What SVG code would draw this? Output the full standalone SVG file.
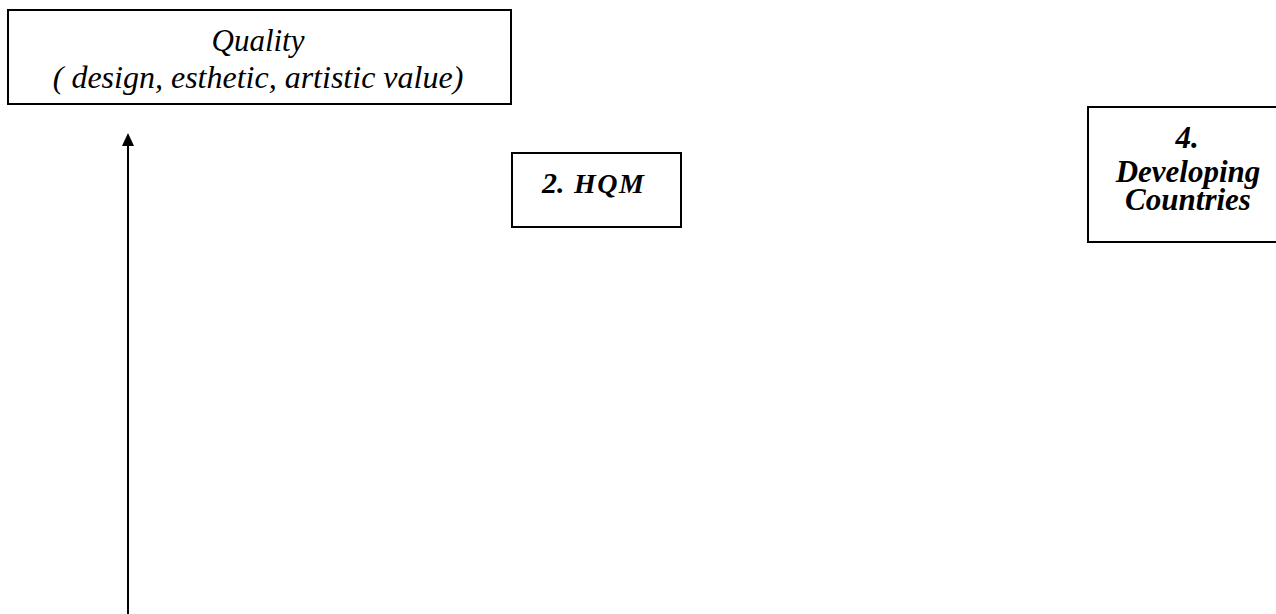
<svg xmlns="http://www.w3.org/2000/svg" width="1276" height="614" viewBox="0 0 1276 614">
<style>
.box{fill:#fff;stroke:#000;stroke-width:2}
.t{font-family:"Liberation Serif","Times New Roman",serif;font-style:italic;text-anchor:middle;fill:#000}
.b{font-weight:bold}
</style>
<rect width="1276" height="614" fill="#fff"/>
<g id="quality">
<rect class="box" x="8" y="10" width="503" height="94"/>
<text class="t" x="258" y="51" font-size="31">Quality</text>
<text class="t" x="258" y="88" font-size="32">( design, esthetic, artistic value)</text>
</g>
<g id="hqm">
<rect class="box" x="512" y="153" width="169" height="74"/>
<text class="t b" x="542" y="193" font-size="30" style="text-anchor:start">2.<tspan x="574" font-size="28" letter-spacing="1.5">HQM</tspan></text>
</g>
<g id="developing">
<rect class="box" x="1088" y="107" width="200" height="135"/>
<text class="t b" x="1187" y="148" font-size="31">4.</text>
<text class="t b" x="1188" y="182" font-size="31">Developing</text>
<text class="t b" x="1188" y="210" font-size="31">Countries</text>
</g>
<g id="connectors">
<line x1="128" y1="614" x2="128" y2="146" stroke="#000" stroke-width="2"/>
<path d="M128,133 L122,146 L134,146 Z" fill="#000"/>
</g>
</svg>
